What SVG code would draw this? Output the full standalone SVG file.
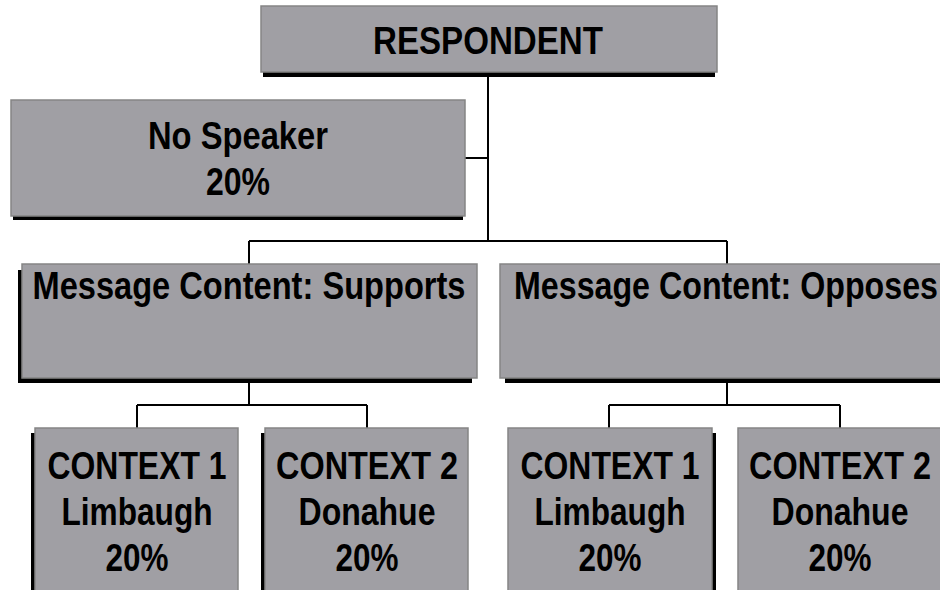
<svg xmlns="http://www.w3.org/2000/svg" width="940" height="590" viewBox="0 0 940 590">
<style>
.box{fill:#a09fa4;stroke:#858585;stroke-width:1.5}
.sh{fill:#000}
.t{font-family:"Liberation Sans",Arial,sans-serif;font-weight:bold;font-size:39px;fill:#000;text-anchor:middle}
.c{fill:none;stroke:#000;stroke-width:2}
</style>
<rect width="940" height="590" fill="#fff"/>
<g id="connectors">
<path class="c" d="M488 72V241M465 158H488M249 241H727M249 241V264M727 241V264"/>
<path class="c" d="M249 378V405M137 405H367M137 405V428M367 405V428"/>
<path class="c" d="M727 378V405M609 405H840M609 405V428M840 405V428"/>
</g>
<g id="respondent">
<rect class="sh" x="263" y="10" width="452" height="67"/>
<rect class="box" x="261" y="6" width="456" height="66"/>
<text class="t" x="488" y="54" textLength="230" lengthAdjust="spacingAndGlyphs">RESPONDENT</text>
</g>
<g id="no-speaker">
<rect class="sh" x="13" y="104" width="450" height="116"/>
<rect class="box" x="11" y="100" width="454" height="116"/>
<text class="t" x="238" y="149" textLength="180" lengthAdjust="spacingAndGlyphs">No Speaker</text>
<text class="t" x="238" y="195" textLength="64" lengthAdjust="spacingAndGlyphs">20%</text>
</g>
<g id="supports">
<rect class="sh" x="18" y="270" width="454" height="113"/>
<rect class="box" x="22" y="264" width="455" height="114"/>
<text class="t" x="249" y="299" textLength="433" lengthAdjust="spacingAndGlyphs">Message Content: Supports</text>
</g>
<g id="opposes">
<rect class="sh" x="505" y="270" width="450" height="113"/>
<rect class="box" x="500" y="264" width="450" height="114"/>
<text class="t" x="726" y="299" textLength="424" lengthAdjust="spacingAndGlyphs">Message Content: Opposes</text>
</g>
<g id="s-context1">
<rect class="sh" x="31" y="433" width="203" height="170"/>
<rect class="box" x="35" y="428" width="203" height="170"/>
<text class="t" x="137" y="479" textLength="179" lengthAdjust="spacingAndGlyphs">CONTEXT 1</text>
<text class="t" x="137" y="525" textLength="151" lengthAdjust="spacingAndGlyphs">Limbaugh</text>
<text class="t" x="137" y="571" textLength="63" lengthAdjust="spacingAndGlyphs">20%</text>
</g>
<g id="s-context2">
<rect class="sh" x="261" y="433" width="203" height="170"/>
<rect class="box" x="265" y="428" width="203" height="170"/>
<text class="t" x="367" y="479" textLength="182" lengthAdjust="spacingAndGlyphs">CONTEXT 2</text>
<text class="t" x="367" y="525" textLength="137" lengthAdjust="spacingAndGlyphs">Donahue</text>
<text class="t" x="367" y="571" textLength="63" lengthAdjust="spacingAndGlyphs">20%</text>
</g>
<g id="o-context1">
<rect class="sh" x="513" y="433" width="203" height="170"/>
<rect class="box" x="508" y="428" width="204" height="170"/>
<text class="t" x="610" y="479" textLength="179" lengthAdjust="spacingAndGlyphs">CONTEXT 1</text>
<text class="t" x="610" y="525" textLength="151" lengthAdjust="spacingAndGlyphs">Limbaugh</text>
<text class="t" x="610" y="571" textLength="63" lengthAdjust="spacingAndGlyphs">20%</text>
</g>
<g id="o-context2">
<rect class="sh" x="742" y="433" width="203" height="170"/>
<rect class="box" x="738" y="428" width="204" height="170"/>
<text class="t" x="840" y="479" textLength="182" lengthAdjust="spacingAndGlyphs">CONTEXT 2</text>
<text class="t" x="840" y="525" textLength="137" lengthAdjust="spacingAndGlyphs">Donahue</text>
<text class="t" x="840" y="571" textLength="63" lengthAdjust="spacingAndGlyphs">20%</text>
</g>
</svg>
